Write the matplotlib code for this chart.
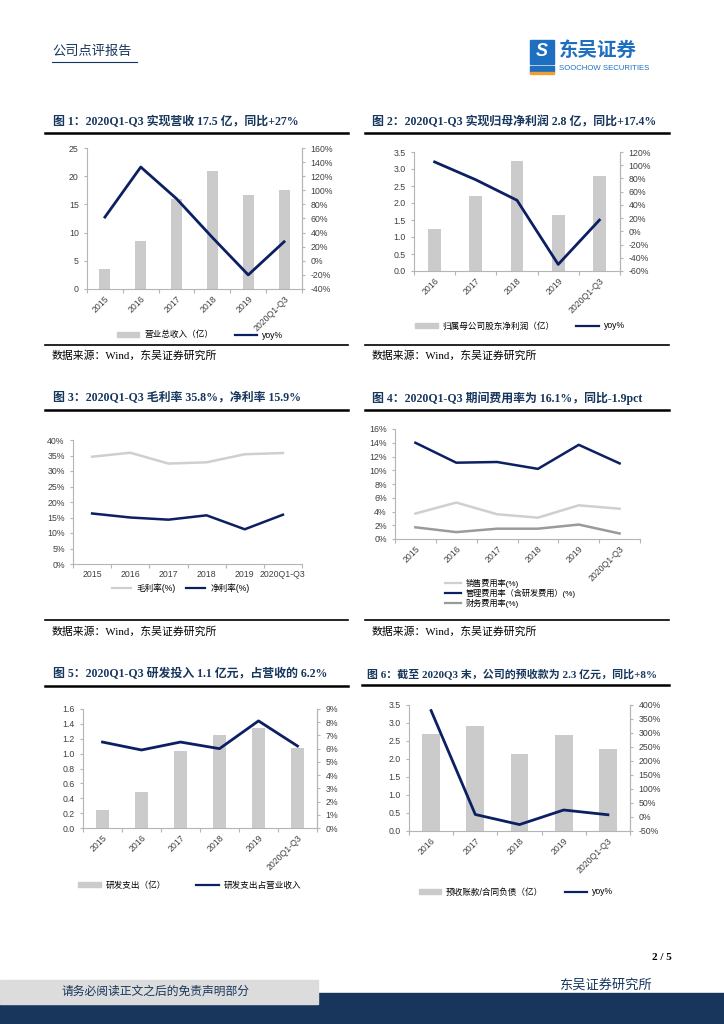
import numpy as np
import matplotlib
matplotlib.use("Agg")
import matplotlib.pyplot as plt
from matplotlib.lines import Line2D
from matplotlib.patches import Patch, Rectangle

plt.rcParams['font.family'] = ['Liberation Sans', 'Noto Sans CJK SC', 'DejaVu Sans']

W, H = 724, 1024
NAVY = "#0d1f63"
TITLE_C = "#17365d"
BAR_C = "#cbcbcb"
LIGHT = "#cfcfcf"
MID = "#9a9a9a"
SPINE = "#b5b5b5"
TICK_C = "#404040"
TICK_FS = 6.3
LEG_FS = 6.2

# ---- data ----
years6 = ["2015", "2016", "2017", "2018", "2019", "2020Q1-Q3"]
years5 = ["2016", "2017", "2018", "2019", "2020Q1-Q3"]

revenue = [3.5, 8.5, 15.9, 20.9, 16.7, 17.5]
revenue_yoy = [62, 133, 88, 33, -20, 27]

net_profit = [1.25, 2.22, 3.23, 1.65, 2.80]
net_profit_yoy = [105, 78, 47, -50, 17]

gross_margin = [34.6, 35.9, 32.4, 32.8, 35.4, 35.8]
net_margin = [16.3, 15.0, 14.3, 15.7, 11.2, 15.9]

sales_exp = [3.7, 5.3, 3.6, 3.1, 4.9, 4.4]
admin_exp = [14.0, 11.1, 11.2, 10.2, 13.7, 11.0]
fin_exp = [1.7, 1.0, 1.5, 1.5, 2.1, 0.8]

rd_spend = [0.24, 0.49, 1.03, 1.25, 1.35, 1.08]
rd_ratio = [6.5, 5.9, 6.5, 6.0, 8.1, 6.2]

advances = [2.70, 2.93, 2.15, 2.68, 2.28]
advances_yoy = [380, 9, -27, 25, 8]

fig = plt.figure(figsize=(W / 100, H / 100), dpi=100)


def fx(x):
    return x / W


def fy(y):
    return 1 - y / H


def px_axes(x0, y0, x1, y1):
    return fig.add_axes([fx(x0), fy(y1), (x1 - x0) / W, (y1 - y0) / H])


def hline(x0, x1, y, lw=1.2, color="black"):
    fig.add_artist(Line2D([fx(x0), fx(x1)], [fy(y), fy(y)], color=color, lw=lw,
                          transform=fig.transFigure))


def title(x, y, s, size=8.6):
    fig.text(fx(x), fy(y), s, fontsize=size, fontweight="bold", color=TITLE_C,
             family=["Liberation Serif", "Noto Sans CJK SC"], va="center")


def source(x, y):
    fig.text(fx(x), fy(y), "数据来源：Wind，东吴证券研究所", fontsize=7.8,
             family=["Liberation Serif", "Noto Sans CJK SC"], va="center")


def style(ax, n, right=True):
    ax.spines["top"].set_visible(False)
    for s in ["left", "bottom", "right"]:
        ax.spines[s].set_color(SPINE)
        ax.spines[s].set_linewidth(0.8)
    if not right:
        ax.spines["right"].set_visible(False)
    ax.set_xlim(-0.5, n - 0.5)
    ax.set_xticks(range(n))
    ax.set_xticks(np.arange(n + 1) - 0.5, minor=True)
    ax.tick_params(axis="x", which="major", length=0, labelsize=TICK_FS, colors=TICK_C, pad=4)
    ax.tick_params(axis="x", which="minor", length=3, color=SPINE, width=0.8)
    ax.tick_params(axis="y", length=2.5, color=SPINE, labelsize=TICK_FS, colors=TICK_C, width=0.8)


def style_right(ax2):
    ax2.spines["top"].set_visible(False)
    ax2.spines["left"].set_visible(False)
    ax2.spines["bottom"].set_visible(False)
    ax2.spines["right"].set_color(SPINE)
    ax2.spines["right"].set_linewidth(0.8)
    ax2.tick_params(axis="y", length=2.5, color=SPINE, labelsize=TICK_FS, colors=TICK_C, width=0.8)


def xlabels(ax, labels, rotate=True):
    if rotate:
        ax.set_xticklabels(labels, rotation=45, ha="right", rotation_mode="anchor")
    else:
        ax.set_xticklabels(labels)


def pct_fmt(ax, vals):
    ax.set_yticks(vals)
    ax.set_yticklabels([f"{v:d}%" for v in vals])


def dec_fmt(ax, top):
    vals = np.arange(0, top + 0.01, 0.5 if top > 2 else 0.2)
    ax.set_yticks(vals)
    ax.set_yticklabels([f"{v:.1f}" for v in vals])


def bar_legend(ax, labels, cx, cy, colsp=2.5):
    ax.legend([Patch(color=BAR_C), Line2D([], [], color=NAVY, lw=1.6)], labels,
              loc="center", ncol=2, frameon=False,
              bbox_to_anchor=(fx(cx), fy(cy)), bbox_transform=fig.transFigure,
              fontsize=LEG_FS, handlelength=2.6, handleheight=0.6,
              handletextpad=0.6, columnspacing=colsp)


# ---- header ----
fig.text(fx(52), fy(52), "公司点评报告", fontsize=9.5, color=TITLE_C, va="center")
hline(52, 137, 62, lw=0.8, color=TITLE_C)
fig.patches.append(Rectangle((fx(530), fy(64)), 24 / W, 24 / H, color="#1f6fc1",
                             transform=fig.transFigure))
fig.patches.append(Rectangle((fx(530), fy(72)), 24 / W, 6 / H, color="#1f6fc1",
                             transform=fig.transFigure))
fig.patches.append(Rectangle((fx(530), fy(74)), 24 / W, 2 / H, color="#f0a030",
                             transform=fig.transFigure))
fig.text(fx(542), fy(52), "S", fontsize=13, fontweight="bold", color="white",
         ha="center", va="center", style="italic")
fig.text(fx(559), fy(51), "东吴证券", fontsize=14, fontweight="bold", color="#1f6fc1",
         va="center")
fig.text(fx(559), fy(68), "SOOCHOW SECURITIES", fontsize=5.6, color="#1f6fc1", va="center")

# ---- chart 1 ----
title(53, 122, "图 1：2020Q1-Q3 实现营收 17.5 亿，同比+27%")
hline(45, 348, 133, lw=1.8)
ax = px_axes(87, 148, 302, 289)
x = np.arange(len(years6))
ax.bar(x, revenue, width=0.31, color=BAR_C)
ax.set_ylim(0, 25)
ax.set_yticks(range(0, 26, 5))
style(ax, len(years6))
xlabels(ax, years6)
ax2 = ax.twinx()
ax2.plot(x, revenue_yoy, color=NAVY, lw=2)
ax2.set_ylim(-40, 160)
pct_fmt(ax2, list(range(-40, 161, 20)))
style_right(ax2)
bar_legend(ax, ["营业总收入（亿）", "yoy%"], 200, 335)
hline(45, 348, 345, lw=1.2)
source(52, 356)

# ---- chart 2 ----
title(372, 122, "图 2：2020Q1-Q3 实现归母净利润 2.8 亿，同比+17.4%")
hline(365, 669, 133, lw=1.8)
ax = px_axes(414, 152, 620, 271)
x = np.arange(len(years5))
ax.bar(x, net_profit, width=0.31, color=BAR_C)
ax.set_ylim(0, 3.5)
dec_fmt(ax, 3.5)
style(ax, len(years5))
xlabels(ax, years5)
ax2 = ax.twinx()
ax2.plot(x, net_profit_yoy, color=NAVY, lw=2)
ax2.set_ylim(-60, 120)
pct_fmt(ax2, list(range(-60, 121, 20)))
style_right(ax2)
bar_legend(ax, ["归属母公司股东净利润（亿）", "yoy%"], 520, 326)
hline(365, 669, 345, lw=1.2)
source(372, 356)

# ---- chart 3 ----
title(53, 398, "图 3：2020Q1-Q3 毛利率 35.8%，净利率 15.9%")
hline(45, 348, 410, lw=1.8)
ax = px_axes(73, 440, 302, 564)
x = np.arange(len(years6))
ax.plot(x, gross_margin, color=LIGHT, lw=1.8)
ax.plot(x, net_margin, color=NAVY, lw=1.8)
ax.set_ylim(0, 40)
style(ax, len(years6), right=False)
pct_fmt(ax, list(range(0, 41, 5)))
xlabels(ax, years6, rotate=False)
ax.legend([Line2D([], [], color=LIGHT, lw=1.6), Line2D([], [], color=NAVY, lw=1.6)],
          ["毛利率(%)", "净利率(%)"], loc="center", ncol=2, frameon=False,
          bbox_to_anchor=(fx(181), fy(588)), bbox_transform=fig.transFigure,
          fontsize=LEG_FS, handlelength=2.2, columnspacing=1.2, handletextpad=0.6)
hline(45, 348, 620, lw=1.2)
source(52, 632)

# ---- chart 4 ----
title(372, 398, "图 4：2020Q1-Q3 期间费用率为 16.1%，同比-1.9pct")
hline(365, 669, 410, lw=1.8)
ax = px_axes(395, 429, 640, 539)
ax.plot(x, sales_exp, color=LIGHT, lw=1.8)
ax.plot(x, admin_exp, color=NAVY, lw=1.8)
ax.plot(x, fin_exp, color=MID, lw=1.8)
ax.set_ylim(0, 16)
style(ax, len(years6), right=False)
pct_fmt(ax, list(range(0, 17, 2)))
xlabels(ax, years6)
ax.legend([Line2D([], [], color=LIGHT, lw=1.6), Line2D([], [], color=NAVY, lw=1.6),
           Line2D([], [], color=MID, lw=1.6)],
          ["销售费用率(%)", "管理费用率（含研发费用）(%)", "财务费用率(%)"],
          loc="upper left", ncol=1, frameon=False,
          bbox_to_anchor=(fx(441), fy(575)), bbox_transform=fig.transFigure,
          fontsize=5.9, handlelength=2.0, handletextpad=0.5, labelspacing=0.1,
          borderpad=0)
hline(365, 669, 620, lw=1.2)
source(372, 632)

# ---- chart 5 ----
title(53, 674, "图 5：2020Q1-Q3 研发投入 1.1 亿元，占营收的 6.2%")
hline(45, 348, 686, lw=1.8)
ax = px_axes(83, 709, 317, 828)
ax.bar(x, rd_spend, width=0.31, color=BAR_C)
ax.set_ylim(0, 1.6)
dec_fmt(ax, 1.6)
style(ax, len(years6))
xlabels(ax, years6)
ax2 = ax.twinx()
ax2.plot(x, rd_ratio, color=NAVY, lw=2)
ax2.set_ylim(0, 9)
pct_fmt(ax2, list(range(0, 10)))
style_right(ax2)
bar_legend(ax, ["研发支出（亿）", "研发支出占营业收入"], 190, 885, colsp=3.5)

# ---- chart 6 ----
title(367, 674, "图 6：截至 2020Q3 末，公司的预收款为 2.3 亿元，同比+8%", size=7.9)
hline(362, 669, 685, lw=1.8)
ax = px_axes(409, 705, 630, 831)
x = np.arange(len(years5))
ax.bar(x, advances, width=0.4, color=BAR_C)
ax.set_ylim(0, 3.5)
dec_fmt(ax, 3.5)
style(ax, len(years5))
xlabels(ax, years5)
ax2 = ax.twinx()
ax2.plot(x, advances_yoy, color=NAVY, lw=2)
ax2.set_ylim(-50, 400)
pct_fmt(ax2, list(range(-50, 401, 50)))
style_right(ax2)
bar_legend(ax, ["预收账款/合同负债（亿）", "yoy%"], 516, 892)

# ---- footer ----
fig.text(fx(672), fy(958), "2 / 5", fontsize=8, fontweight="bold", ha="right",
         va="center", family=["Liberation Serif"])
fig.text(fx(652), fy(985), "东吴证券研究所", fontsize=9.5, ha="right", va="center",
         color=TITLE_C)
fig.patches.append(Rectangle((0, fy(1024)), 1, 20 / H, color="#18365c",
                             transform=fig.transFigure))
fig.patches.append(Rectangle((fx(318), fy(1005)), (W - 318) / W, 12 / H, color="#18365c",
                             transform=fig.transFigure))
fig.patches.append(Rectangle((0, fy(1004)), 318 / W, 24 / H, color="#dcdcdc",
                             transform=fig.transFigure))
fig.text(fx(155), fy(992), "请务必阅读正文之后的免责声明部分", fontsize=8.5, ha="center",
         va="center", color=TITLE_C)

fig.savefig("out.png", dpi=100)
